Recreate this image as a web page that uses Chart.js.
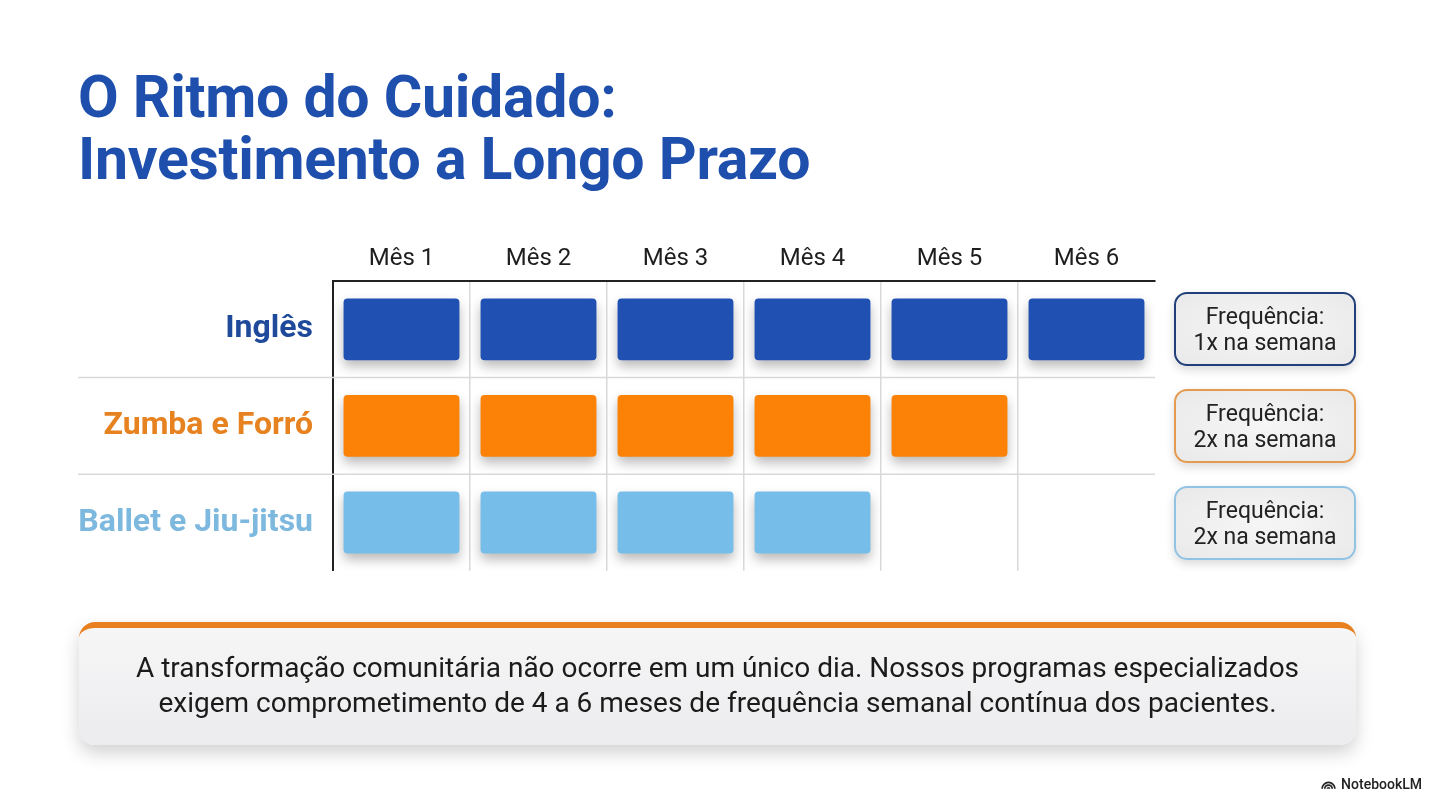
<!DOCTYPE html>
<html>
<head>
<meta charset="utf-8">
<title>O Ritmo do Cuidado</title>
<script src="https://cdn.jsdelivr.net/npm/chart.js@4.4.1/dist/chart.umd.min.js"></script>
<style>
    body { margin: 0; width: 1434px; height: 800px; background: #fff; font-family: Roboto, "Noto Sans", sans-serif; position: relative; overflow: hidden; }
    h1 { position: absolute; left: 78px; top: 66px; margin: 0; font-size: 59px; line-height: 62px; font-weight: 700; color: #1f4fad; letter-spacing: -0.3px; }
    #wrap { position: absolute; left: 60px; top: 230px; width: 1110px; height: 380px; }
    .freq { position: absolute; left: 1174px; width: 182px; height: 74px; box-sizing: border-box; border: 2px solid; border-radius: 13px;
            background: radial-gradient(ellipse at center, #f6f6f6 0%, #e9e9ea 100%); box-shadow: 0 4px 10px rgba(0,0,0,0.15);
            display: flex; align-items: center; justify-content: center; text-align: center; font-size: 23px; line-height: 26px; color: #222; padding-top: 2px; }
    #nota { position: absolute; left: 79px; top: 622px; width: 1277px; height: 123px; box-sizing: border-box; border-top: 6px solid #e8801f; border-radius: 16px;
            background: linear-gradient(#f6f6f7, #ececee); box-shadow: 0 8px 18px rgba(0,0,0,0.18);
            display: flex; align-items: center; justify-content: center; text-align: center; font-size: 28px; line-height: 35px; color: #1b1b1b; padding-bottom: 4px; }
    #marca { position: absolute; right: 12px; top: 776px; font-size: 14px; font-weight: 500; color: #222; display: flex; align-items: center; gap: 5px; }
</style>
</head>
<body>
    <h1>O Ritmo do Cuidado:<br>Investimento a Longo Prazo</h1>

    <div id="wrap"><canvas id="grafico"></canvas></div>

    <div id="caixas"></div>

    <div id="nota">A transformação comunitária não ocorre em um único dia. Nossos programas especializados<br>exigem comprometimento de 4 a 6 meses de frequência semanal contínua dos pacientes.</div>

    <div id="marca">
        <svg width="15" height="12" viewBox="0 0 14 11"><path d="M1 10 A6 6 0 0 1 13 10 M3.5 10 A3.5 3.5 0 0 1 10.5 10 M6 10 A1 1 0 0 1 8 10" fill="none" stroke="#222" stroke-width="1.6"/></svg>
        NotebookLM
    </div>

    <script>
        // Datos del grafico
        const meses = ['Mês 1', 'Mês 2', 'Mês 3', 'Mês 4', 'Mês 5', 'Mês 6'];
        const programas = ['Inglês', 'Zumba e Forró', 'Ballet e Jiu-jitsu'];
        const duracaoMeses = [6, 5, 4];
        const frequencias = ['Frequência:<br>1x na semana', 'Frequência:<br>2x na semana', 'Frequência:<br>2x na semana'];
        const coresBarra = ['#2150b3', '#fb8107', '#77bde9'];
        const coresTexto = ['#1f4a9c', '#e6821f', '#7db8de'];
        const coresBorda = ['#213f78', '#e49a4f', '#92c3e2'];

        const folga = 0.077; // espacio entre bloques, en fraccion de mes

        // Un dataset por mes: bloque flotante [mes-1, mes] si el programa dura ese mes
        const datasets = meses.map((mes, m) => ({
            label: mes,
            data: duracaoMeses.map(d => d > m ? [m + folga, m + 1 - folga] : null),
            backgroundColor: coresBarra,
            borderWidth: 0,
            borderRadius: 4,
            borderSkipped: false,
            grouped: false,
            categoryPercentage: 0.64,
            barPercentage: 1
        }));

        const sombra = {
            id: 'sombra',
            beforeDatasetsDraw(chart) {
                const { ctx, chartArea, scales } = chart;
                const y = scales.y;
                // lineas separadoras de filas, extendidas bajo las etiquetas
                ctx.save();
                ctx.strokeStyle = '#d9d9d9';
                ctx.lineWidth = 1.5;
                for (let i = 1; i < programas.length; i++) {
                    const py = (y.getPixelForValue(i - 1) + y.getPixelForValue(i)) / 2;
                    ctx.beginPath();
                    ctx.moveTo(y.left + 18, py);
                    ctx.lineTo(chartArea.right, py);
                    ctx.stroke();
                }
                ctx.restore();
                ctx.save();
                ctx.shadowColor = 'rgba(0,0,0,0.28)';
                ctx.shadowBlur = 12;
                ctx.shadowOffsetY = 6;
            },
            afterDatasetsDraw(chart) {
                chart.ctx.restore();
            }
        };

        const ctx = document.getElementById('grafico').getContext('2d');
        const grafico = new Chart(ctx, {
            type: 'bar',
            data: { labels: programas, datasets: datasets },
            options: {
                indexAxis: 'y',
                responsive: true,
                maintainAspectRatio: false,
                animation: false,
                layout: { padding: { top: 0, right: 15, bottom: 18, left: 0 } },
                plugins: { legend: { display: false }, tooltip: { enabled: false } },
                scales: {
                    x: { type: 'linear', min: 0, max: meses.length, display: false },
                    meses: {
                        type: 'category',
                        labels: meses,
                        position: 'top',
                        offset: true,
                        grid: {
                            offset: true,
                            drawTicks: false,
                            lineWidth: 1.5,
                            color: c => (c.type === 'scale' || c.index === 0) ? 'rgba(0,0,0,0)' : '#d9d9d9'
                        },
                        border: { display: true, color: '#222', width: 2 },
                        ticks: { color: '#1e1e1e', padding: 8, font: { family: 'Roboto', size: 24 } },
                        afterFit: s => { s.height = 51; }
                    },
                    y: {
                        type: 'category',
                        offset: true,
                        grid: { display: false, drawTicks: false },
                        border: { display: true, color: '#222', width: 2 },
                        ticks: {
                            padding: 20,
                            color: c => coresTexto[c.index],
                            font: { family: 'Roboto', size: 32, weight: 'bold' }
                        },
                        afterFit: s => { s.width = 273; }
                    }
                }
            },
            plugins: [sombra]
        });

        // Cajas de frecuencia alineadas con cada fila
        const caixas = document.getElementById('caixas');
        const yScale = grafico.scales.y;
        programas.forEach((p, i) => {
            const div = document.createElement('div');
            div.className = 'freq';
            div.style.borderColor = coresBorda[i];
            div.style.top = (230 + yScale.getPixelForValue(i) - 37) + 'px';
            div.innerHTML = frequencias[i];
            caixas.appendChild(div);
        });
    </script>
</body>
</html>
